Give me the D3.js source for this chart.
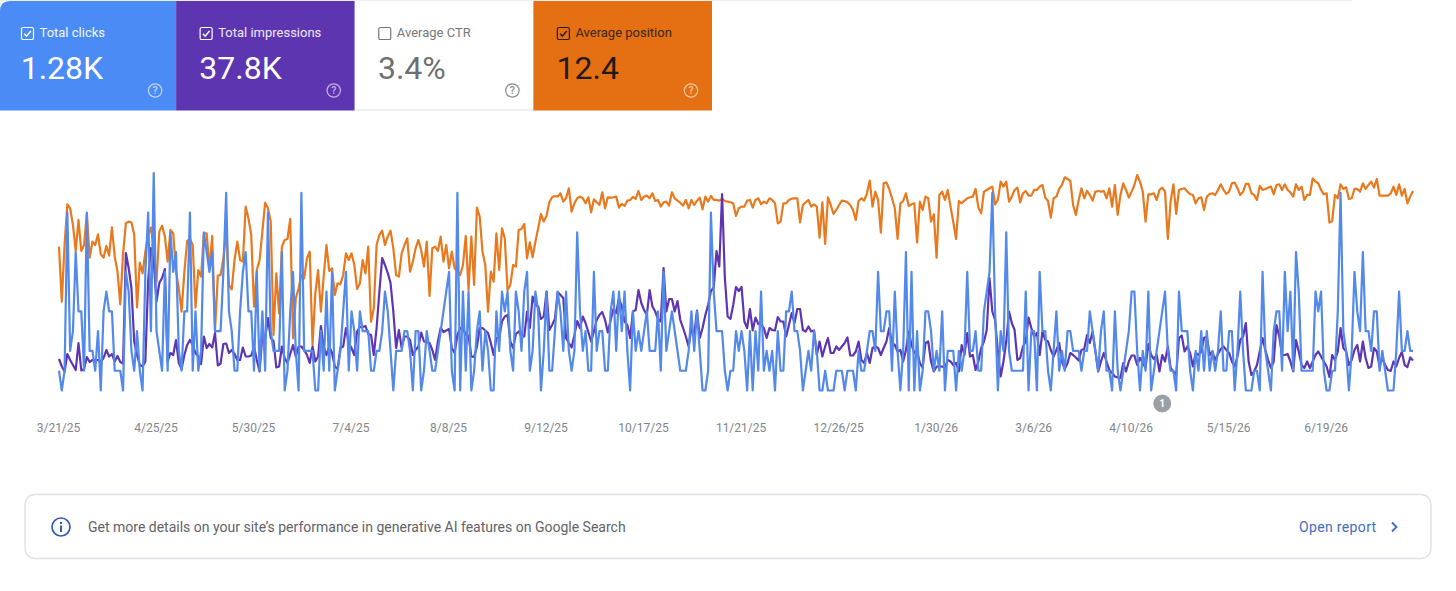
<!DOCTYPE html>
<html>
<head>
<meta charset="utf-8">
<title>Search performance</title>
<script src="https://cdn.jsdelivr.net/npm/d3@7/dist/d3.min.js"></script>
<style>
  html, body { margin: 0; padding: 0; background: #fff; overflow: hidden; }
  svg { display: block; font-family: Roboto, sans-serif; }
</style>
</head>
<body>
<div id="chart"></div>
<script>
// Metric cards
const metricNames = ["Total clicks", "Total impressions", "Average CTR", "Average position"];
const metricValues = ["1.28K", "37.8K", "3.4%", "12.4"];
const metricChecked = [true, true, false, true];

// Date axis
const startDate = "3/21/25";
const tickLabels = ["3/21/25", "4/25/25", "5/30/25", "7/4/25", "8/8/25", "9/12/25", "10/17/25",
  "11/21/25", "12/26/25", "1/30/26", "3/6/26", "4/10/26", "5/15/26", "6/19/26"];

// Daily clicks
const clicks = [
  1,0,1,9,2,3,7,4,4,1, 9,2,2,1,3,0,4,5,4,4, 1,1,1,0,6,5,2,1,3,1, 0,6,9,3,11,3,2,1,6,1,
  8,6,7,2,1,4,4,9,1,4, 1,2,8,7,6,7,3,3,3,6, 10,4,3,1,1,4,6,7,4,4, 1,6,1,4,1,9,3,2,2,2,
  7,0,1,4,6,2,0,10,2,2, 2,2,0,0,3,1,5,1,6,0, 1,2,4,6,1,4,3,1,4,3, 3,3,1,1,2,2,3,5,4,
  2,0,2,2,2,3,3,2,0,3, 3,0,1,3,2,1,1,2,3,4, 5,6,1,0,10,0,5,1,5,0, 1,3,4,1,3,2,0,0,4,2,
  5,4,5,2,1,5,4,2,5,6, 1,2,5,4,0,2,5,1,1,3, 5,4,2,5,2,1,2,8,4,2, 3,1,1,6,2,3,3,1,1,4,
  5,2,5,3,5,2,0,4,2,3, 2,3,4,2,2,2,4,1,6,2, 3,4,3,2,1,1,1,2,4,2, 4,2,0,0,1,9,5,3,3,3,
  1,0,1,1,3,2,3,2,0,3,0, 3,1,5,1,2,1,2,0,3,1, 1,4,4,5,3,3,2,0,1,2, 1,3,2,0,0,1,0,0,0,1,
  1,1,0,1,1,1,0,2,1,1, 2,3,3,2,6,3,3,4,4,1, 5,2,0,2,7,0,6,0,3,0, 1,4,4,3,1,2,1,4,0,2,
  2,2,0,2,1,2,6,2,2,3, 1,1,4,5,6,10,4,0,3,2, 8,2,1,1,1,1,1,5,0,3, 3,0,6,3,3,1,0,2,4,1,
  2,1,
  3,3,2,2,2,1,2,2,4,3, 2,1,3,4,1,1,0,4,1,0, 1,2,3,5,5,2,0,2,1,5, 0,1,2,3,4,5,2,1,1,0,
  5,3,3,3,1,0,2,1,3,1, 3,1,2,1,2,4,1,1,3,3, 0,2,5,2,0,0,0,1,1,0, 6,2,1,0,3,4,4,1,6,3,
  5,1,7,5,1,1,1,1,1,5, 4,5,1,0,0,1,1,4,10,3, 2,0,2,6,4,3,7,3,3,2, 4,4,1,2,1,0,0,0,2,5,
  2,2,3,2,2
];

// Daily impressions
const impressions = [
  63,48,38,73,61,51,41,95,40,43, 67,57,61,61,61,58,65,81,68,73, 58,69,57,54,275,245,205,98,71,51,
  48,58,221,285,258,178,215,225,243,58, 75,71,101,55,43,71,91,101,91,75, 68,53,108,85,93,86,115,50,54,93,
  94,75,81,73,61,61,86,68,68,70, 88,61,38,111,105,145,105,99,46,48, 88,65,55,73,91,68,88,88,81,71,
  55,88,58,68,129,88,71,88,75,48, 43,85,88,125,95,85,71,118,127,127, 129,113,111,71,125,198,
  265,251,235,215, 158,85,121,85,108,108,101,71,81,88, 116,98,97,95,81,61,98,125,117,120,
  123,85,75,111,125,125,111,110,68,67, 87,125,125,120,115,95,71,105,105,138, 148,151,98,85,113,118,108,108,158,125,
  188,171,168,143,148,198,121,131,143,197, 191,185,105,95,86,111,139,125,148,135, 117,98,118,141,151,157,141,116,141,163,
  155,185,168,138,131,105,158,161,201,175, 161,151,201,168,158,143,138,245,158,183, 183,158,179,141,125,108,88,125,111,160,
  105,125,151,171,199,206,279,248, 393,225,148,143,171,207,199,207,138,125, 163,120,146,133,131,125,105,125,121,120,
  147,138,138,108,131,155,135,163,163,121, 118,128,118,120,71,98,68,88,105,75, 75,88,81,88,95,106,70,70,78,98,
  61,55,75,55,85,88,85,71,85,98, 125,95,91,78,81,58,81,118,91,75, 78,55,45,95,98,58,38,48,48,48,
  45,61,58,51,55,38,91,71,115,68, 71,41,58,85,98,121,225,158,141,78, 28,58,98,158,135,121,61,65,88,98,
  146,125,108,115,71,118,101,98,81,68, 81,95,
  58,43,55,75,71,66,60,81,83,111, 95,118,78,38,58,75,58,41,35,28, 26,25,55,38,58,70,70,51,65,55,
  45,93,71,63,71,38,71,58,88,45, 38,31,105,110,78,88,75,48,75,71, 78,105,108,71,78,61,73,83,88,81,
  75,58,48,68,101,108,135,58,31,38, 51,78,105,81,61,45,58,131,108,71, 71,73,58,38,101,78,51,45,58,45,
  58,71,78,68,58,48,27,71,61,78, 125,85,78,51,61,81,91,58,98,65, 45,48,85,78,48,65,51,41,39,58,
  48,65,77,51,47,66,60
];

// Daily average position (smaller is better, so the axis runs downwards)
const positions = [
  22,38.5,21.5,9.3,10.5,15.5,23.3,14,23.3,21.5, 12,25.3,20.5,21.5,18.3,24.3,25.3,21.8,24.7,16.2,
  25,29.5,39.3,24,15,14.5,14.7,18.5,40.2,26.8, 30,23.5,18.5,16.3,22.5,32.5,17.5,15.7,19,26.5,
  17,18,29.5,34.5,41.5,29.5,20.3,19.7,21.5,40.3, 29,31,18,18,28.5,18.8,47.2,30.7,30.5,25.5,
  17,33.5,34.8,26,20.5,26,26.5,10,13.5,18.5, 40,29,26,17.5,8.8,10.5,14.5,48.5,30,42,
  22,20,19.7,13.7,49.5,37.5,34.5,30.5,31.5,25.5, 23.5,51.5,36,29,41.5,31,21.5,29.3,28.5,36.5,
  33,33.3,30.5,24,26,24,27.5,34.7,33,26, 30,22,44.5,40.5,21.5,18.5,
  17.2,21.5,19,17.2, 22.5,30.5,31,24,21.5,19.5,29.5,26.5,22.5,20,
  23,28,20.5,36.8,22.5,22,23.3,19,26.5,21.5, 28.5,23.5,28.5,29.5,30.5,27.5,18.8,35,19,33.5,
  10.3,13,23.5,27.5,41.5,29.5,32.5,18,29,16.5, 19.5,35,33.5,27.5,28,17,16.7,15.2,25.5,20.7,
  25.2,20.5,16.5,12.2,14.5,12.7,8.7,7.2,6.8,7, 6,8.5,7.5,4.5,11.5,9,7.5,7,7.5,9,
  7.2,11.7,7.8,8.7,9.5,5.7,10.5,7.2,7.3,7.2, 7,10.3,9.2,9.8,8.2,8,7.1,7.7,5.3,8,
  7,6.7,7.5,6,8.3,8,10,8.7,8.5,9.7, 5.7,7.5,8.2,8.8,9.7,8,10.5,8,9.5,8.2,
  7.3,10.8,7,8.5,6.8,8,8,8.2,7.7,8.3, 8.5,8.7,9,12.8,10.5,10,10,8.2,8,10.3,
  8,7.5,9.3,8.5,9,7.5,8,9,15,14.5, 9,9,8,7.6,7.5,7.5,14.7,9.5,8.7,8,
  10,9.3,10,19.3,8.7,21.2,7.2,9.5,12.2,11, 9.5,8.2,8.3,8.7,9.5,11,14,8.3,7.5,8.2,
  6,2.2,10,5.5,8,17.8,3,2.7,4.7,7.5, 10.5,19.7,9,8.3,6,9.8,9.3,9,20.7,8.5,
  11,7,7.5,14.5,12.3,25.3,6.5,5.5,8,5, 10,14.7,19.7,8.3,9,8.2,7.5,7.2,7,4.7,
  10.3,12,5.5,5,4.5,4,9.3,8,2.5,4, 2.5,8.5,7,5,4.3,8.7,6,5.3,6.7,6.7,
  5,5,4,3.5,7.3,8.3,13.3,7.5,7,4.7, 3.5,1.2,1.7,2.2,9.5,12.5,8,4.5,7.5,5.3,
  6.5,8.2,5.5,5.3,5.5,5.3,7.5,4.5,10,3.5, 12.5,6.5,3,5,7.3,5.5,3.5,0.5,2.5,5.5,
  14.5,6.3,6.3,6,8,5,4.3,5.5,19.7,8.5, 3.3,12.2,5,4.7,4.5,5.5,6.2,6.5,9,7.5,
  7.2,11,7,6.2,6,6.5,5,3.3,5,6.2, 5.5,3,2.8,4.5,6.5,5.5,3.2,3.2,6,6.5,
  8,3.8,5,4.7,4.3,4,6.3,3.5,3.3,5, 3.3,5,5.7,7,3.3,5,4,8,6.5,6.5,
  1.5,2.5,3,5,6.3,6,14.8,14.3,6.5,7.5, 3.3,4.7,4.2,7.7,7.5,4.7,4.7,5.5,3,4.7,
  3.5,2.5,4.3,1.7,6.7,6.7,6.7,6.7,6,4, 6.5,3.3,6.7,4.7,9,7,5.3
];

const annotationDate = "4/21/26";
const annotationLabel = "1";
const bannerText = "Get more details on your site\u2019s performance in generative AI features on Google Search";
const bannerLink = "Open report";

const width = 1456, height = 591;
const svg = d3.select("#chart").append("svg").attr("width", width).attr("height", height);
svg.append("rect").attr("width", width).attr("height", height).attr("fill", "#fff");

// Hairline above the cards
svg.append("rect").attr("x", 0).attr("y", 0).attr("width", 1352).attr("height", 1).attr("fill", "#eceef1");

// ---- Metric cards ----
const cardStyles = [
  { bg: "#4b8bf5", fg: "#ffffff", label: "#f4f7fe", help: "#c3d6fa", box: "#ffffff", tick: "#ffffff" },
  { bg: "#5e35b1", fg: "#ffffff", label: "#efeaf8", help: "#c4b3e3", box: "#ffffff", tick: "#ffffff" },
  { bg: "#ffffff", fg: "#6f6f6f", label: "#787878", help: "#8a8a8a", box: "#777777", tick: "none" },
  { bg: "#e56f13", fg: "#1f1a14", label: "#38281a", help: "#f6c79f", box: "#2a1c10", tick: "#2a1c10" }
];
const cardX = d3.scaleBand().domain(d3.range(metricNames.length)).range([-2.5, 712]).paddingInner(0);
const cardTop = 1, cardH = 109.5;

// The first card's top-left corner is rounded, so it gets its own path.
const cards = svg.selectAll("g.card").data(metricNames).join("g").attr("class", "card")
  .attr("transform", (d, i) => `translate(${cardX(i)},${cardTop})`);

cards.each(function (d, i) {
  const g = d3.select(this), s = cardStyles[i], w = cardX.bandwidth();
  if (i === 0) {
    g.append("path").attr("d", `M2.5,${cardH}V10Q2.5,0 12.5,0H${w}V${cardH}Z`).attr("fill", s.bg);
  } else {
    g.append("rect").attr("width", w).attr("height", cardH).attr("fill", s.bg);
  }
  if (i === 2) {
    g.append("rect").attr("y", cardH - 1).attr("width", w).attr("height", 1).attr("fill", "#dfe1e5");
  }
  // check box
  g.append("rect").attr("x", 24).attr("y", 26.5).attr("width", 12).attr("height", 12).attr("rx", 1.6)
    .attr("fill", "none").attr("stroke", s.box).attr("stroke-width", 1.2);
  if (metricChecked[i]) {
    g.append("path").attr("d", "M26.8,32.8L29,35.2L33.4,30").attr("fill", "none")
      .attr("stroke", s.tick).attr("stroke-width", 1.5);
  }
  g.append("text").attr("x", 42).attr("y", 36).attr("font-size", 13).attr("font-weight", 400)
    .attr("fill", s.label).text(d);
  g.append("text").attr("x", 23.2).attr("y", 78).attr("font-size", 32).attr("fill", s.fg).text(metricValues[i]);
  // help icon
  const hx = w - 21 , hy = 89.5;
  g.append("circle").attr("cx", hx).attr("cy", hy).attr("r", 6.7).attr("fill", "none")
    .attr("stroke", s.help).attr("stroke-width", 1.2);
  g.append("text").attr("x", hx).attr("y", hy + 3.7).attr("text-anchor", "middle").attr("font-size", 10.5)
    .attr("font-weight", 500).attr("fill", s.help).text("?");
});

// ---- Chart ----
const parseDate = d3.utcParse("%m/%d/%y");
const firstDay = parseDate(startDate);
const days = clicks.map((_, i) => d3.utcDay.offset(firstDay, i));

const x = d3.scaleUtc().domain([days[0], days[days.length - 1]]).range([59, 1413]);
const yClicks = d3.scaleLinear().domain([0, 11]).range([390.5, 173]);
const yImpressions = d3.scaleLinear().domain([0, 435]).range([390.5, 173]);
const yPosition = d3.scaleLinear().domain([0, 65]).range([173.3, 390]);

const seriesDefs = [
  { values: positions, scale: yPosition, color: "#e8791e" },
  { values: impressions, scale: yImpressions, color: "#5e35b1" },
  { values: clicks, scale: yClicks, color: "#5289ea" }
];
const line = s => d3.line().x((_, i) => x(days[i])).y(v => s(v));
svg.append("g").attr("fill", "none").attr("stroke-width", 2.2).attr("stroke-linejoin", "round")
  .selectAll("path").data(seriesDefs).join("path")
  .attr("stroke", d => d.color)
  .attr("d", d => line(d.scale)(d.values.slice(0, days.length)));

// Date axis
const axis = d3.axisBottom(x)
  .tickValues(tickLabels.map(parseDate))
  .tickSize(0)
  .tickFormat((d, i) => tickLabels[i]);
const axisG = svg.append("g").attr("transform", "translate(-1,420)").call(axis);
axisG.select(".domain").remove();
axisG.selectAll("text").attr("font-family", "Roboto, sans-serif").attr("font-size", 12)
  .attr("fill", "#80868b").attr("dy", "0.71em").attr("y", 3.5);

// Annotation marker under the plot
const marker = svg.append("g").attr("transform", `translate(${x(parseDate(annotationDate))},403.5)`);
marker.append("circle").attr("r", 9).attr("fill", "#9aa0a6");
marker.append("text").attr("y", 3.8).attr("text-anchor", "middle").attr("font-size", 10.5)
  .attr("font-weight", 700).attr("fill", "#fff").text(annotationLabel);

// ---- Banner ----
svg.append("rect").attr("x", 25).attr("y", 494.5).attr("width", 1406).attr("height", 64).attr("rx", 10)
  .attr("fill", "#fff").attr("stroke", "#dfe1e5").attr("stroke-width", 1.4);
const info = svg.append("g").attr("transform", "translate(61,527)");
info.append("circle").attr("r", 9).attr("fill", "none").attr("stroke", "#2f5bb7").attr("stroke-width", 1.7);
info.append("rect").attr("x", -1).attr("y", -1.5).attr("width", 2).attr("height", 6.5).attr("fill", "#2f5bb7");
info.append("rect").attr("x", -1).attr("y", -5).attr("width", 2).attr("height", 2).attr("fill", "#2f5bb7");
svg.append("text").attr("x", 88).attr("y", 532).attr("font-size", 14).attr("fill", "#5f6368").text(bannerText);
svg.append("text").attr("x", 1299).attr("y", 532).attr("font-size", 14).attr("letter-spacing", 0.35)
  .attr("fill", "#3f6cc4").text(bannerLink);
svg.append("path").attr("d", "M1392,522.5L1396.5,527L1392,531.5").attr("fill", "none")
  .attr("stroke", "#3f6cc4").attr("stroke-width", 1.8);
</script>
</body>
</html>
